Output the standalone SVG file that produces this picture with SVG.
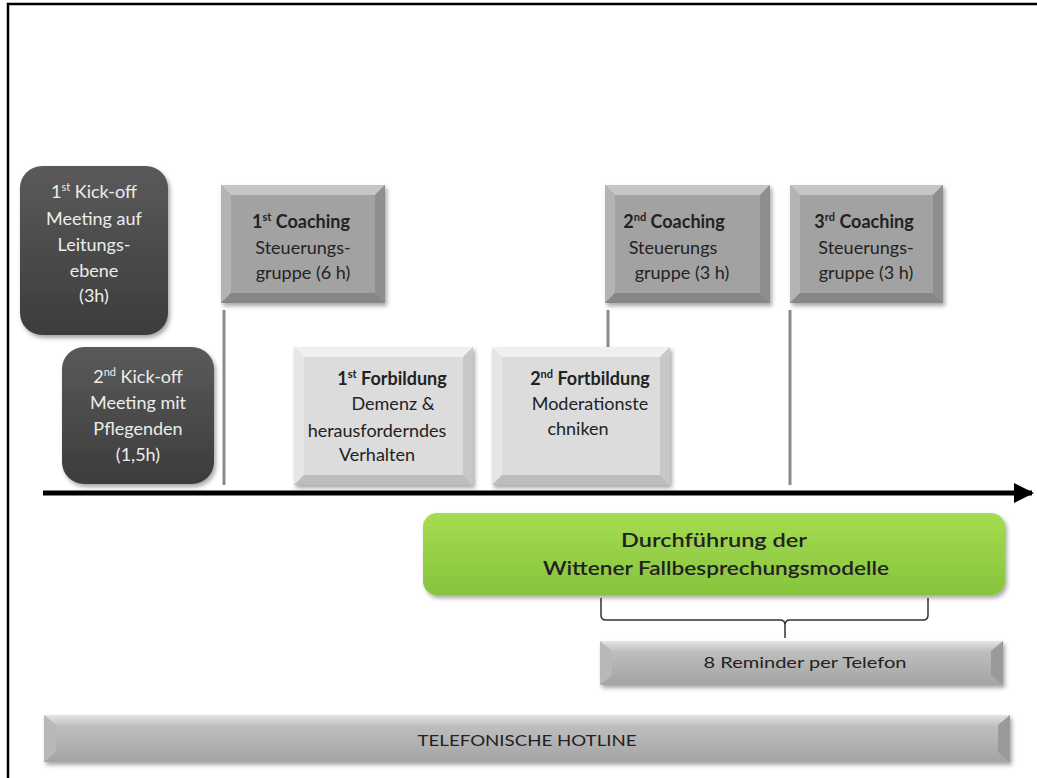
<svg xmlns="http://www.w3.org/2000/svg" width="1037" height="778" viewBox="0 0 1037 778">
<defs>
<style>
text{font-family:Lato,"Open Sans","Liberation Sans",sans-serif;font-size:18px;text-anchor:middle}
.dk{fill:#ececec}
.tx{fill:#222}
.b{font-weight:bold}
.sup{font-size:11px}
.vl{stroke:#8a8a8a;stroke-width:3}
.bar{font-size:16px}
.grn{font-size:20px;font-weight:600}
</style>
<linearGradient id="gDark" x1="0" y1="0" x2="0" y2="1"><stop offset="0" stop-color="#5a5a5a"/><stop offset="1" stop-color="#3c3c3c"/></linearGradient>
<linearGradient id="gGreen" x1="0" y1="0" x2="0" y2="1"><stop offset="0" stop-color="#a6dc52"/><stop offset="1" stop-color="#86c43c"/></linearGradient>
<linearGradient id="gBar" x1="0" y1="0" x2="0" y2="1"><stop offset="0" stop-color="#e4e4e4"/><stop offset="0.25" stop-color="#bdbdbd"/><stop offset="1" stop-color="#a4a4a4"/></linearGradient>
<filter id="sh" x="-10%" y="-10%" width="125%" height="130%"><feDropShadow dx="2" dy="3" stdDeviation="2" flood-color="#000" flood-opacity="0.35"/></filter>
<marker id="arr" viewBox="0 0 10 10" refX="9" refY="5" markerWidth="4" markerHeight="4" orient="auto"><path d="M0,0 L10,5 L0,10 z" fill="#000"/></marker>
</defs>
<rect width="1037" height="778" fill="#fff"/>
<path d="M8,778 V4 H1037" fill="none" stroke="#000" stroke-width="2.5"/>

<g id="connectors">
<line x1="43" y1="493" x2="1032" y2="493" stroke="#000" stroke-width="5" marker-end="url(#arr)"/>
<line class="vl" x1="224" y1="310" x2="224" y2="485"/>
<line class="vl" x1="608" y1="310" x2="608" y2="347"/>
<line class="vl" x1="790" y1="310" x2="790" y2="485"/>
<path d="M601,598 V615 Q601,620 606,620 H780 Q785,620 785,625 V638 M785,625 Q785,620 790,620 H923 Q928,620 928,615 V598" fill="none" stroke="#333" stroke-width="1.5"/>
</g>

<g id="kickoff1">
<rect x="20" y="166" width="148" height="169" rx="22" fill="url(#gDark)" filter="url(#sh)"/>
<text class="dk" x="94" y="198">1<tspan class="sup" dy="-7">st</tspan><tspan dy="7"> Kick-off</tspan></text>
<text class="dk" x="94" y="225">Meeting  auf</text>
<text class="dk" x="94" y="251">Leitungs-</text>
<text class="dk" x="94" y="277">ebene</text>
<text class="dk" x="94" y="302">(3h)</text>
</g>

<g id="kickoff2">
<rect x="62" y="347" width="152" height="137" rx="22" fill="url(#gDark)" filter="url(#sh)"/>
<text class="dk" x="138" y="383">2<tspan class="sup" dy="-7">nd</tspan><tspan dy="7"> Kick-off</tspan></text>
<text class="dk" x="138" y="409">Meeting  mit</text>
<text class="dk" x="138" y="435">Pflegenden</text>
<text class="dk" x="138" y="461">(1,5h)</text>
</g>

<g id="coaching1">
<rect x="221" y="185" width="164" height="118" fill="#a2a2a2" filter="url(#sh)"/>
<polygon points="221,185 385,185 375,195 231,195" fill="#c6c6c6"/>
<polygon points="221,185 231,195 231,293 221,303" fill="#b4b4b4"/>
<polygon points="385,185 375,195 375,293 385,303" fill="#8e8e8e"/>
<polygon points="221,303 231,293 375,293 385,303" fill="#868686"/>
<text class="tx b" x="301" y="228">1<tspan class="sup" dy="-7">st</tspan><tspan dy="7"> Coaching</tspan></text>
<text class="tx" x="303" y="254">Steuerungs-</text>
<text class="tx" x="303" y="279">gruppe (6 h)</text>
</g>

<g id="coaching2">
<rect x="605" y="185" width="165" height="118" fill="#a2a2a2" filter="url(#sh)"/>
<polygon points="605,185 770,185 760,195 615,195" fill="#c6c6c6"/>
<polygon points="605,185 615,195 615,293 605,303" fill="#b4b4b4"/>
<polygon points="770,185 760,195 760,293 770,303" fill="#8e8e8e"/>
<polygon points="605,303 615,293 760,293 770,303" fill="#868686"/>
<text class="tx b" x="674" y="228">2<tspan class="sup" dy="-7">nd</tspan><tspan dy="7"> Coaching</tspan></text>
<text class="tx" x="673" y="254">Steuerungs</text>
<text class="tx" x="682" y="279">gruppe (3 h)</text>
</g>

<g id="coaching3">
<rect x="790" y="185" width="153" height="118" fill="#a2a2a2" filter="url(#sh)"/>
<polygon points="790,185 943,185 933,195 800,195" fill="#c6c6c6"/>
<polygon points="790,185 800,195 800,293 790,303" fill="#b4b4b4"/>
<polygon points="943,185 933,195 933,293 943,303" fill="#8e8e8e"/>
<polygon points="790,303 800,293 933,293 943,303" fill="#868686"/>
<text class="tx b" x="864" y="228">3<tspan class="sup" dy="-7">rd</tspan><tspan dy="7"> Coaching</tspan></text>
<text class="tx" x="866" y="254">Steuerungs-</text>
<text class="tx" x="866" y="279">gruppe (3 h)</text>
</g>

<g id="fortbildung1">
<rect x="294" y="347" width="179" height="138" fill="#dcdcdc" filter="url(#sh)"/>
<polygon points="294,347 473,347 463,357 304,357" fill="#f0f0f0"/>
<polygon points="294,347 304,357 304,475 294,485" fill="#e6e6e6"/>
<polygon points="473,347 463,357 463,475 473,485" fill="#c8c8c8"/>
<polygon points="294,485 304,475 463,475 473,485" fill="#bdbdbd"/>
<text class="tx b" x="392" y="385">1<tspan class="sup" dy="-7">st</tspan><tspan dy="7"> Forbildung</tspan></text>
<text class="tx" x="393" y="410">Demenz &amp;</text>
<text class="tx" x="377" y="437">herausforderndes</text>
<text class="tx" x="377" y="461">Verhalten</text>
</g>

<g id="fortbildung2">
<rect x="492" y="347" width="178" height="138" fill="#dcdcdc" filter="url(#sh)"/>
<polygon points="492,347 670,347 660,357 502,357" fill="#f0f0f0"/>
<polygon points="492,347 502,357 502,475 492,485" fill="#e6e6e6"/>
<polygon points="670,347 660,357 660,475 670,485" fill="#c8c8c8"/>
<polygon points="492,485 502,475 660,475 670,485" fill="#bdbdbd"/>
<text class="tx b" x="590" y="385">2<tspan class="sup" dy="-7">nd</tspan><tspan dy="7"> Fortbildung</tspan></text>
<text class="tx" x="590" y="410">Moderationste</text>
<text class="tx" x="578" y="435">chniken</text>
</g>

<g id="durchfuehrung">
<rect x="423" y="513" width="582" height="82" rx="14" fill="url(#gGreen)" filter="url(#sh)"/>
<text class="tx grn" x="714" y="547" textLength="186" lengthAdjust="spacingAndGlyphs">Durchführung der</text>
<text class="tx grn" x="716" y="575" textLength="346" lengthAdjust="spacingAndGlyphs">Wittener Fallbesprechungsmodelle</text>
</g>

<g id="reminder">
<rect x="600" y="641" width="403" height="44" fill="url(#gBar)" filter="url(#sh)"/>
<polygon points="600,641 612,651 612,675 600,685" fill="#b8b8b8"/>
<polygon points="1003,641 991,651 991,675 1003,685" fill="#9a9a9a"/>
<text class="tx bar" x="805" y="668" textLength="203" lengthAdjust="spacingAndGlyphs">8 Reminder per Telefon</text>
</g>

<g id="hotline">
<rect x="44" y="715" width="966" height="47" fill="url(#gBar)" filter="url(#sh)"/>
<polygon points="44,715 56,725 56,752 44,762" fill="#b8b8b8"/>
<polygon points="1010,715 998,725 998,752 1010,762" fill="#9a9a9a"/>
<text class="tx bar" x="527" y="746" textLength="219" lengthAdjust="spacingAndGlyphs">TELEFONISCHE HOTLINE</text>
</g>
</svg>
